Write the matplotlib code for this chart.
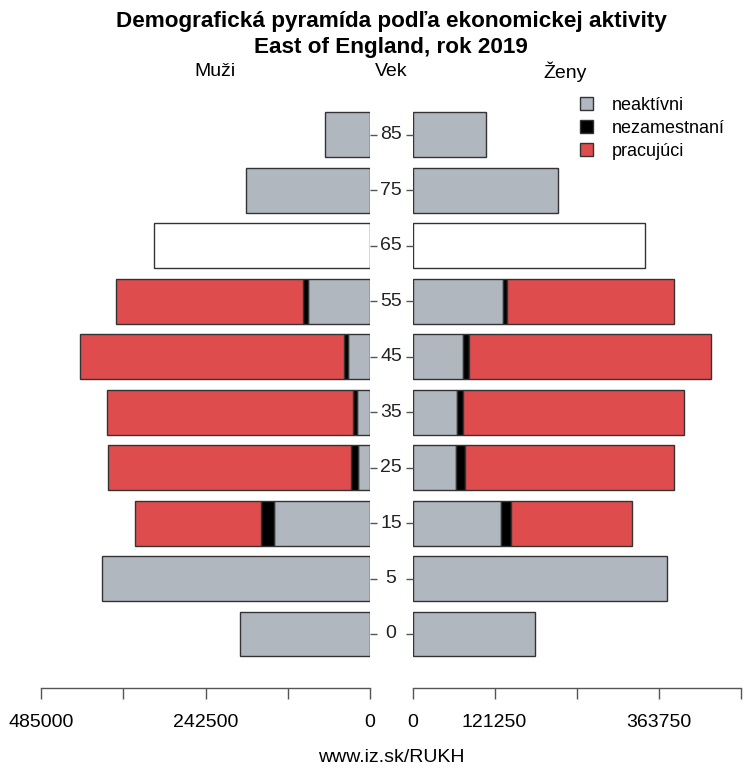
import numpy as np
import matplotlib
matplotlib.use("Agg")
import matplotlib.pyplot as plt
from matplotlib.patches import Patch

plt.rcParams["font.family"] = ["Liberation Sans", "DejaVu Sans"]

# ── Data ──────────────────────────────────────────────────────
AGES = ["0", "5", "15", "25", "35", "45", "55", "65", "75", "85"]

# muži
MEN_INACTIVE   = [191600, 395100, 141500, 17100, 19600, 32000, 91000, 0, 182800, 66300]
MEN_UNEMPLOYED = [0, 0, 19600, 10300, 5000, 7000, 8000, 0, 0, 0]
MEN_WORKING    = [0, 0, 185300, 358800, 362600, 388700, 275200, 0, 0, 0]
MEN_UNKNOWN    = [0, 0, 0, 0, 0, 0, 0, 318000, 0, 0]

# ženy
WOMEN_INACTIVE   = [181100, 376300, 130600, 63600, 66500, 74800, 133100, 0, 215100, 108700]
WOMEN_UNEMPLOYED = [0, 0, 14800, 13800, 8300, 8900, 6800, 0, 0, 0]
WOMEN_WORKING    = [0, 0, 178500, 309000, 326300, 357000, 246900, 0, 0, 0]
WOMEN_UNKNOWN    = [0, 0, 0, 0, 0, 0, 0, 343500, 0, 0]

XMAX = 485000
X_TICKS = [0, 121250, 242500, 363750, 485000]
LEFT_LABELS = ["0", "", "242500", "", "485000"]
RIGHT_LABELS = ["0", "121250", "", "363750", ""]

C_INACTIVE = "#b0b7bf"
C_UNEMP = "#000000"
C_WORK = "#de4c4e"
EDGE = "#333333"
FS = 14

W, H = 744, 767
fig = plt.figure(figsize=(W / 100, H / 100), dpi=100)

y = np.arange(len(AGES))
bar_h = 0.81
ylim = (-0.974, 9.63)
ax_bottom = (H - 688) / H
ax_height = 588 / H

axL = fig.add_axes([41 / W, ax_bottom, 329 / W, ax_height])
axR = fig.add_axes([412.5 / W, ax_bottom, 328 / W, ax_height])


def draw_side(ax, inactive, unemp, work, unknown):
    inactive = np.array(inactive)
    unemp = np.array(unemp)
    work = np.array(work)
    unknown = np.array(unknown)
    kw = dict(height=bar_h, edgecolor=EDGE, linewidth=1.0)
    m = inactive > 0
    ax.barh(y[m], inactive[m], color=C_INACTIVE, **kw)
    m = unemp > 0
    ax.barh(y[m], unemp[m], left=inactive[m], color=C_UNEMP, **kw)
    m = work > 0
    ax.barh(y[m], work[m], left=(inactive + unemp)[m], color=C_WORK, **kw)
    m = unknown > 0
    ax.barh(y[m], unknown[m], color="white", **kw)
    ax.set_ylim(*ylim)
    for s in ["top", "left", "right"]:
        ax.spines[s].set_visible(False)
    ax.spines["bottom"].set_color("#555555")
    ax.spines["bottom"].set_linewidth(1.0)
    ax.set_xticks(X_TICKS)
    ax.tick_params(axis="x", length=8, width=1.0, color="#555555",
                   labelsize=FS, pad=11)
    ax.set_yticks(y)
    ax.set_yticklabels([])


draw_side(axL, MEN_INACTIVE, MEN_UNEMPLOYED, MEN_WORKING, MEN_UNKNOWN)
axL.set_xlim(XMAX, 0)
axL.set_xticklabels(LEFT_LABELS)
axL.yaxis.tick_right()
axL.tick_params(axis="y", length=5, width=1.0, color="#555555", right=True, left=False)

draw_side(axR, WOMEN_INACTIVE, WOMEN_UNEMPLOYED, WOMEN_WORKING, WOMEN_UNKNOWN)
axR.set_xlim(0, XMAX)
axR.set_xticklabels(RIGHT_LABELS)
axR.tick_params(axis="y", length=5, width=1.0, color="#555555", left=True)

# vekové skupiny v strede
for yi, lab in zip(y, AGES):
    disp = axL.transData.transform((0, yi))
    fy = fig.transFigure.inverted().transform(disp)[1]
    fig.text(391 / W, fy, lab, ha="center", va="center", fontsize=FS, color="#222222")

# nadpisy
fig.text(391 / W, 1 - 22 / H, "Demografická pyramída podľa ekonomickej aktivity",
         ha="center", va="center", fontsize=16.2, fontweight="bold")
fig.text(391 / W, 1 - 47 / H, "East of England, rok 2019",
         ha="center", va="center", fontsize=16.2, fontweight="bold")
fig.text(215 / W, 1 - 72 / H, "Muži", ha="center", va="center", fontsize=FS)
fig.text(391 / W, 1 - 72 / H, "Vek", ha="center", va="center", fontsize=FS)
fig.text(565 / W, 1 - 72 / H, "Ženy", ha="center", va="center", fontsize=FS)
fig.text(391 / W, 1 - 757 / H, "www.iz.sk/RUKH", ha="center", va="center", fontsize=FS)

# legenda
handles = [
    Patch(facecolor=C_INACTIVE, edgecolor=EDGE, label="neaktívni"),
    Patch(facecolor=C_UNEMP, edgecolor=EDGE, label="nezamestnaní"),
    Patch(facecolor=C_WORK, edgecolor=EDGE, label="pracujúci"),
]
fig.legend(handles=handles, loc="upper left", bbox_to_anchor=(580 / W, 1 - 97 / H),
           frameon=False, fontsize=13, handlelength=0.72, handleheight=0.72,
           handletextpad=1.05, labelspacing=0.32, borderaxespad=0, borderpad=0)

fig.savefig("out.png", dpi=100)
